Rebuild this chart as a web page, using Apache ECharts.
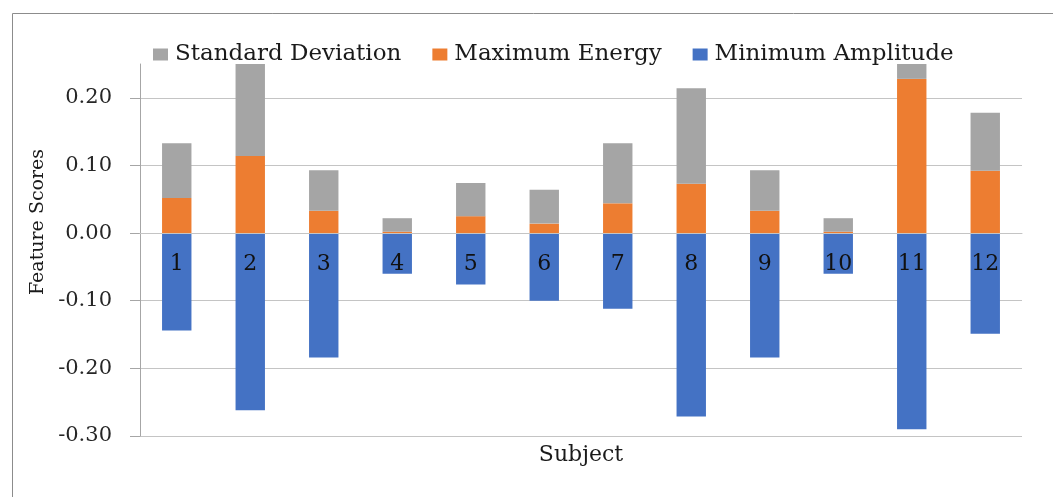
<!DOCTYPE html>
<html>
<head>
<meta charset="utf-8">
<title>Feature Scores by Subject</title>
<script src="https://cdn.jsdelivr.net/npm/echarts@6/dist/echarts.min.js"></script>
<style>
  html, body { margin: 0; padding: 0; background: #ffffff; }
  #chart { width: 1053px; height: 497px; }
</style>
</head>
<body>
<div id="chart"></div>
<script>
// Subjects on the category axis
const subjects = ['1', '2', '3', '4', '5', '6', '7', '8', '9', '10', '11', '12'];

// Positive stack: Maximum Energy at the base, Standard Deviation on top
const maximumEnergy = [0.052, 0.114, 0.033, 0.002, 0.025, 0.014, 0.044, 0.073, 0.033, 0.002, 0.228, 0.092];
const standardDeviation = [0.081, 0.150, 0.060, 0.020, 0.049, 0.050, 0.089, 0.141, 0.060, 0.020, 0.035, 0.086];

// Negative side
const minimumAmplitude = [-0.144, -0.262, -0.184, -0.060, -0.076, -0.100, -0.112, -0.271, -0.184, -0.060, -0.290, -0.149];

// Value axis ticks
const yTicks = [-0.3, -0.2, -0.1, 0, 0.1, 0.2];
const Y_MIN = -0.3;
const Y_MAX = 0.25;

const FONT = '"DejaVu Serif", "Liberation Serif", serif';
const GRID_COLOR = '#c4c4c4';
const AXIS_COLOR = '#a6a6a6';

const GRID = { left: 140, right: 31, top: 64, bottom: 61 };
const plotHeight = 497 - GRID.top - GRID.bottom;
// the category axis sits on the zero line of the value axis
const zeroOffset = plotHeight * (0 - Y_MIN) / (Y_MAX - Y_MIN);

const chart = echarts.init(document.getElementById('chart'), null, { renderer: 'canvas' });

chart.setOption({
  animation: false,
  backgroundColor: '#ffffff',
  graphic: [{
    type: 'rect',
    silent: true,
    shape: { x: 12.5, y: 13.5, width: 1200, height: 700 },
    style: { fill: 'none', stroke: '#8c8c8c', lineWidth: 1 }
  }],
  legend: {
    data: ['Standard Deviation', 'Maximum Energy', 'Minimum Amplitude'],
    left: 148,
    top: 38,
    itemWidth: 15,
    itemHeight: 12,
    itemGap: 31,
    icon: 'rect',
    textStyle: { fontFamily: FONT, fontSize: 23, color: '#1a1a1a', padding: [0, 0, 0, 2] }
  },
  grid: Object.assign({ containLabel: false, outerBoundsMode: 'none' }, GRID),
  xAxis: {
    type: 'category',
    data: subjects,
    offset: -zeroOffset,
    name: 'Subject',
    nameLocation: 'middle',
    nameGap: 211,
    nameTextStyle: { fontFamily: FONT, fontSize: 22, color: '#1a1a1a' },
    axisLine: { show: true, onZero: false, lineStyle: { color: GRID_COLOR, width: 1 } },
    axisTick: { show: false },
    axisLabel: { interval: 0, margin: 20, fontFamily: FONT, fontSize: 22, color: '#111111' },
    z: 3
  },
  yAxis: {
    type: 'value',
    min: Y_MIN,
    max: Y_MAX,
    interval: 0.1,
    name: 'Feature Scores',
    nameLocation: 'middle',
    nameGap: 86,
    nameRotate: 90,
    nameTextStyle: { fontFamily: FONT, fontSize: 19, color: '#1a1a1a', padding: [0, 0, 0, 56] },
    axisLine: { show: true, lineStyle: { color: AXIS_COLOR, width: 1 } },
    axisTick: { show: true, inside: false, length: 10, customValues: yTicks, lineStyle: { color: AXIS_COLOR } },
    axisLabel: {
      customValues: yTicks,
      margin: 28,
      fontFamily: FONT,
      fontSize: 21,
      color: '#262626',
      formatter: v => v.toFixed(2)
    },
    splitLine: {
      show: true,
      lineStyle: {
        color: [GRID_COLOR, GRID_COLOR, GRID_COLOR, GRID_COLOR, GRID_COLOR, GRID_COLOR, 'rgba(0,0,0,0)'],
        width: 1
      }
    }
  },
  series: [
    {
      name: 'Maximum Energy',
      type: 'bar',
      stack: 'scores',
      barWidth: '40%',
      data: maximumEnergy,
      itemStyle: { color: '#ED7D31' }
    },
    {
      name: 'Standard Deviation',
      type: 'bar',
      stack: 'scores',
      barWidth: '40%',
      data: standardDeviation,
      itemStyle: { color: '#A5A5A5' }
    },
    {
      name: 'Minimum Amplitude',
      type: 'bar',
      stack: 'scores',
      barWidth: '40%',
      data: minimumAmplitude,
      itemStyle: { color: '#4472C4' }
    }
  ]
});
</script>
</body>
</html>
